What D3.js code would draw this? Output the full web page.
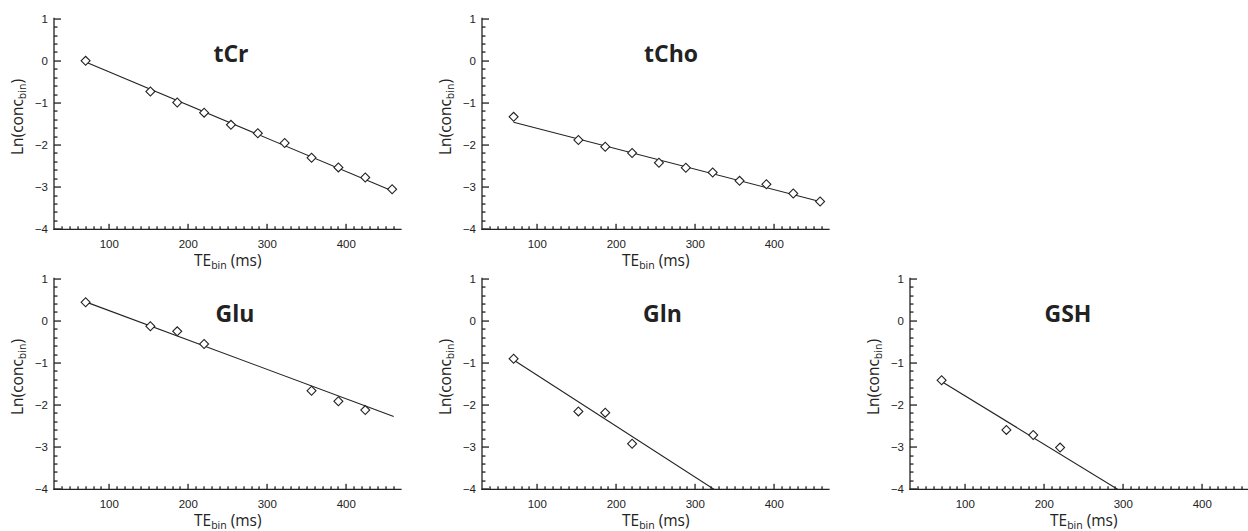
<!DOCTYPE html>
<html>
<head>
<meta charset="utf-8">
<script src="https://cdn.jsdelivr.net/npm/d3@7"></script>
<style>
  html, body { margin: 0; padding: 0; background: #fff; }
  svg { display: block; }
</style>
</head>
<body>
<div id="chart"></div>
<script>
// ---------------- data ----------------
const metabolites = ["tCr", "tCho", "Glu", "Gln", "GSH"];

const teAll = [70, 152, 186, 220, 254, 288, 322, 356, 390, 424, 458];
const teGlu = [70, 152, 186, 220, 356, 390, 424];
const teShort = [70, 152, 186, 220];

const tCrValues  = [0.00, -0.73, -0.99, -1.23, -1.52, -1.72, -1.95, -2.30, -2.53, -2.77, -3.05];
const tChoValues = [-1.33, -1.88, -2.04, -2.19, -2.42, -2.54, -2.65, -2.85, -2.93, -3.15, -3.34];
const gluValues  = [0.44, -0.13, -0.25, -0.55, -1.66, -1.91, -2.12];
const glnValues  = [-0.90, -2.15, -2.18, -2.92];
const gshValues  = [-1.41, -2.59, -2.71, -3.01];

// fitted line: value at TE = 70 and at TE = 460
const fitTE    = [70, 460];
const fitStart = [-0.03, -1.46, 0.45, -0.93, -1.44];
const fitEnd   = [-3.10, -3.35, -2.27, -5.65, -5.92];

const xTicks = [100, 200, 300, 400];
const yTicks = [1, 0, -1, -2, -3, -4];
const xMinorTicks = [40, 50, 60, 70, 80, 90, 110, 120, 130, 140, 150, 160, 170, 180, 190,
  210, 220, 230, 240, 250, 260, 270, 280, 290, 310, 320, 330, 340, 350, 360, 370, 380, 390,
  410, 420, 430, 440, 450, 460];
const yMinorTicks = [0.8, 0.6, 0.4, 0.2, -0.2, -0.4, -0.6, -0.8, -1.2, -1.4, -1.6, -1.8,
  -2.2, -2.4, -2.6, -2.8, -3.2, -3.4, -3.6, -3.8];
const xDomain = [30, 470];
const yDomain = [-4, 1];

// ---------------- layout ----------------
const W = 1248, H = 531;
const colX = [54, 482, 910];
const rowTop = [18.7, 278.7];
const plotW = 347.6, plotH = 210.6;
const panelPos = [[0, 0], [1, 0], [0, 1], [1, 1], [2, 1]];
const titleDX = [177, 189, 181, 180.5, 158];
const ink = "#222";

const series = [
  { x: teAll, y: tCrValues },
  { x: teAll, y: tChoValues },
  { x: teGlu, y: gluValues },
  { x: teShort, y: glnValues },
  { x: teShort, y: gshValues }
];

const svg = d3.select("#chart").append("svg")
  .attr("width", W).attr("height", H)
  .attr("viewBox", `0 0 ${W} ${H}`);

const defs = svg.append("defs");
const diamond = d3.symbol().type(d3.symbolSquare).size(40);

metabolites.forEach((name, i) => {
  const [c, r] = panelPos[i];
  const x0 = colX[c], y0 = rowTop[r];
  const yb = y0 + plotH;
  const x = d3.scaleLinear().domain(xDomain).range([x0, x0 + plotW]);
  const y = d3.scaleLinear().domain(yDomain).range([yb, y0]);
  const g = svg.append("g");

  defs.append("clipPath").attr("id", "clip" + i)
    .append("rect").attr("x", x0).attr("y", y0)
    .attr("width", plotW).attr("height", plotH);

  // ----- y axis ticks (inward, to the right), drawn as thin rects
  const yTickData = yMinorTicks.map(v => [v, 3.5]).concat(yTicks.map(v => [v, 7]));
  g.append("g").selectAll("rect").data(yTickData).join("rect")
    .attr("x", x0)
    .attr("y", d => Math.round(y(d[0])) - 0.6)
    .attr("width", d => d[1])
    .attr("height", 1.3)
    .attr("fill", ink);
  g.append("line").attr("x1", x0).attr("x2", x0)
    .attr("y1", y(yDomain[1]) - 1).attr("y2", yb + 0.6)
    .attr("stroke", ink).attr("stroke-width", 1.3);
  g.append("g").selectAll("text").data(yTicks).join("text")
    .attr("x", x0 - 6).attr("y", d => y(d)).attr("dy", "0.36em")
    .attr("text-anchor", "end")
    .attr("font-family", "'Liberation Sans', Arial, sans-serif")
    .attr("font-size", 11.5).attr("fill", ink)
    .text(d => d < 0 ? "\u2212" + Math.abs(d) : String(d));

  // ----- x axis ticks (inward, upward), drawn as thin rects
  const xTickData = xMinorTicks.map(v => [v, 3]).concat(xTicks.map(v => [v, 5.5]));
  g.append("g").selectAll("rect").data(xTickData).join("rect")
    .attr("x", d => Math.round(x(d[0])) - 0.6)
    .attr("y", d => yb - d[1])
    .attr("width", 1.3)
    .attr("height", d => d[1])
    .attr("fill", ink);
  g.append("line").attr("x1", x(xDomain[0]) - 0.6).attr("x2", x(xDomain[1]))
    .attr("y1", yb).attr("y2", yb)
    .attr("stroke", ink).attr("stroke-width", 1.3);
  g.append("g").selectAll("text").data(xTicks).join("text")
    .attr("x", d => x(d)).attr("y", yb + 18.5)
    .attr("text-anchor", "middle")
    .attr("font-family", "'Liberation Sans', Arial, sans-serif")
    .attr("font-size", 11.5).attr("fill", ink)
    .text(d => d);

  // x axis title
  const xt = g.append("text")
    .attr("x", x0 + plotW / 2).attr("y", yb + 36.5)
    .attr("text-anchor", "middle")
    .attr("font-family", "'Open Sans', sans-serif")
    .attr("font-size", 15.5).attr("fill", ink);
  xt.append("tspan").text("TE");
  xt.append("tspan").attr("font-size", 10.5).attr("dy", 3).text("bin");
  xt.append("tspan").attr("dy", -3).text(" (ms)");

  // y axis title
  const ycx = x0 - 31, ycy = y0 + plotH / 2 - 7;
  const yt = g.append("text")
    .attr("transform", `translate(${ycx},${ycy}) rotate(-90)`)
    .attr("text-anchor", "middle")
    .attr("font-family", "'Open Sans', sans-serif")
    .attr("font-size", 15.5).attr("fill", ink);
  yt.append("tspan").text("Ln(conc");
  yt.append("tspan").attr("font-size", 10.5).attr("dy", 3).text("bin");
  yt.append("tspan").attr("dy", -3).text(")");

  // fit line
  const fit = [[fitTE[0], fitStart[i]], [fitTE[1], fitEnd[i]]];
  g.append("path")
    .attr("clip-path", `url(#clip${i})`)
    .attr("d", d3.line().x(d => x(d[0])).y(d => y(d[1]))(fit))
    .attr("fill", "none").attr("stroke", ink).attr("stroke-width", 1.1);

  // points
  const s = series[i];
  g.append("g").selectAll("path").data(s.x.map((t, k) => [t, s.y[k]])).join("path")
    .attr("d", diamond)
    .attr("transform", d => `translate(${x(d[0])},${y(d[1])}) rotate(45)`)
    .attr("fill", "#fff").attr("stroke", ink).attr("stroke-width", 1.1);

  // panel title
  g.append("text")
    .attr("x", x0 + titleDX[i]).attr("y", y0 + 43.3)
    .attr("text-anchor", "middle")
    .attr("font-family", "'Open Sans', sans-serif")
    .attr("font-weight", "bold")
    .attr("font-size", 23).attr("fill", ink)
    .text(name);
});
</script>
</body>
</html>
